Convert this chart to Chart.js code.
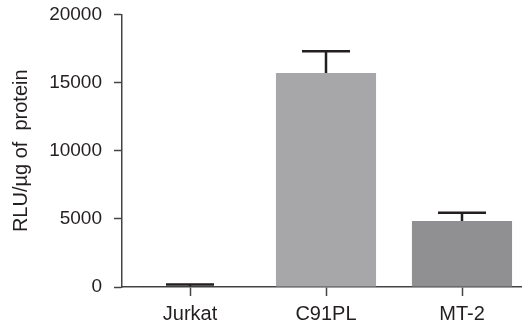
<!DOCTYPE html>
<html>
<head>
<meta charset="utf-8">
<script src="https://cdn.jsdelivr.net/npm/chart.js@4.4.1/dist/chart.umd.min.js"></script>
<style>
    html, body { margin: 0; padding: 0; background: #fff; overflow: hidden; }
    #wrap { width: 532px; height: 328px; }
</style>
</head>
<body>
<div id="wrap"><canvas id="Chart_RLU" width="532" height="328"></canvas></div>
<script>
// dữ liệu biểu đồ
var cellLines = ['Jurkat', 'C91PL', 'MT-2'];
var rluValues = [80, 15700, 4850];
var rluErrors = [100, 1600, 600];
var barColors = ['#3a3a3c', '#a7a7aa', '#909093'];
var yTicks = [0, 5000, 10000, 15000, 20000];

var inkColor = '#231f20';
var fontFamily = '"Liberation Sans", Arial, Helvetica, sans-serif';

// plugin vẽ thanh sai số (chỉ phía trên)
const errorBars = {
    id: 'error_bars',
    afterDatasetsDraw: (chart) => {
        const ctx = chart.ctx;
        const yScale = chart.scales.y;
        const meta = chart.getDatasetMeta(0);
        ctx.save();
        ctx.strokeStyle = inkColor;
        ctx.lineWidth = 2.5;
        meta.data.forEach(function (bar, i) {
            var x = bar.x;
            var yTop = yScale.getPixelForValue(rluValues[i]);
            var yCap = yScale.getPixelForValue(rluValues[i] + rluErrors[i]);
            ctx.beginPath();
            ctx.moveTo(x, yTop);
            ctx.lineTo(x, yCap);
            ctx.moveTo(x - 24, yCap);
            ctx.lineTo(x + 24, yCap);
            ctx.stroke();
        });
        ctx.restore();
    }
};

var ctx = document.getElementById('Chart_RLU');
var chartRLU = new Chart(ctx, {
    type: 'bar',
    data: {
        labels: cellLines,
        datasets: [{
            data: rluValues,
            backgroundColor: barColors,
            borderWidth: 0,
            categoryPercentage: 0.8,
            barPercentage: 0.92
        }]
    },
    options: {
        responsive: false,
        animation: false,
        events: [],
        layout: {
            padding: { top: 14.5, right: 2, left: 0, bottom: 0 }
        },
        plugins: {
            legend: { display: false },
            tooltip: { enabled: false }
        },
        scales: {
            x: {
                grid: {
                    offset: false,
                    drawOnChartArea: false,
                    drawTicks: true,
                    tickLength: 9,
                    tickColor: '#444',
                    tickWidth: 1.5
                },
                border: { display: true, color: '#444', width: 1.5 },
                ticks: {
                    color: inkColor,
                    padding: 6,
                    font: { family: fontFamily, size: 20 }
                },
                afterFit: function (scale) {
                    scale.height = 41;
                    scale.paddingLeft = 0;
                    scale.paddingRight = 0;
                }
            },
            y: {
                min: 0,
                max: 20000,
                afterBuildTicks: function (scale) {
                    scale.ticks = yTicks.map(function (v) { return { value: v }; });
                },
                grid: {
                    drawOnChartArea: false,
                    drawTicks: true,
                    tickLength: 8,
                    tickColor: '#444',
                    tickWidth: 1.5
                },
                border: { display: true, color: '#444', width: 1.5 },
                ticks: {
                    color: inkColor,
                    padding: 12,
                    font: { family: fontFamily, size: 19 },
                    callback: function (v) { return String(v); }
                },
                title: {
                    display: true,
                    text: 'RLU/\u00b5g of  protein',
                    color: inkColor,
                    padding: { top: 9, bottom: 0 },
                    font: { family: fontFamily, size: 20 }
                },
                afterFit: function (scale) {
                    scale.width = 122;
                    scale.paddingTop = 0;
                    scale.paddingBottom = 0;
                }
            }
        }
    },
    plugins: [errorBars]
});
</script>
</body>
</html>
